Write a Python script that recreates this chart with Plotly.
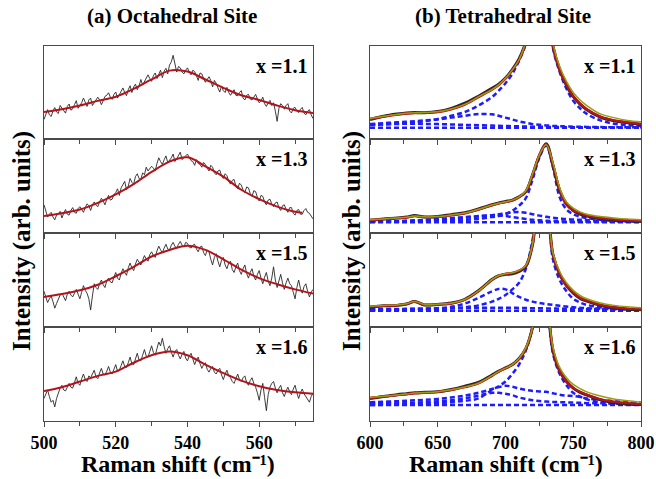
import plotly.graph_objects as go

# ---------------- (a) Octahedral site ----------------
oct_x = [500 + 0.5 * k for k in range(151)]
oct_fit_x = [500, 505, 510, 515, 520, 525, 530, 535, 540, 545, 550, 555, 560, 565, 570, 575]
oct_fit_x13 = [500, 505, 510, 515, 520, 525, 530, 535, 540, 545, 550, 555, 560, 565, 570, 572]

oct_data_11 = [.21, .27, .316, .26, .242, .30, .338, .29, .274, .36,
               .33, .30, .278, .35, .376, .31, .324, .37, .412, .33,
               .36, .39, .44, .40, .35, .42, .44, .36, .39, .43,
               .45, .42, .369, .41, .458, .47, .497, .45, .426, .48,
               .505, .44, .472, .51, .549, .50, .466, .53, .573, .50,
               .56, .59, .53, .57, .64, .58, .62, .66, .69, .65,
               .62, .68, .71, .65, .70, .74, .66, .73, .76, .70,
               .795, .83, .90, .80, .72, .78, .765, .72, .70, .74,
               .765, .72, .69, .74, .725, .68, .63, .71, .70, .65,
               .61, .64, .67, .63, .56, .63, .60, .55, .505, .57,
               .52, .50, .555, .50, .47, .50, .53, .47, .465, .50,
               .52, .44, .42, .47, .48, .43, .42, .45, .48, .43,
               .39, .41, .45, .38, .35, .39, .415, .36, .39, .30,
               .19, .33, .38, .36, .32, .36, .38, .30, .28, .33,
               .34, .30, .285, .32, .34, .28, .26, .30, .315, .26,
               .22]
oct_fit_11 = [.29, .32, .36, .41, .455, .54, .64, .735, .725, .64, .55, .47, .42, .36, .31, .28]

oct_data_13 = [.30, .22, .17, .20, .22, .17, .14, .19, .20, .23,
               .16, .21, .25, .20, .19, .24, .27, .22, .21, .26,
               .28, .25, .22, .27, .31, .29, .24, .30, .33, .30,
               .28, .33, .37, .34, .30, .36, .40, .35, .36, .41,
               .43, .47, .40, .48, .52, .55, .46, .50, .58, .54,
               .52, .60, .63, .58, .57, .64, .62, .70, .66, .68,
               .71, .69, .66, .74, .80, .76, .73, .78, .82, .75,
               .77, .80, .84, .76, .79, .83, .86, .78, .80, .82,
               .84, .80, .77, .76, .72, .78, .74, .73, .70, .75,
               .73, .69, .66, .72, .70, .64, .62, .66, .67, .61,
               .58, .63, .61, .55, .52, .56, .57, .50, .47, .53,
               .51, .46, .43, .49, .48, .42, .39, .45, .44, .38,
               .34, .40, .39, .33, .30, .35, .36, .31, .28, .32,
               .33, .27, .24, .29, .30, .25, .22, .27, .27, .21,
               .19, .24, .25, .20, .20, .24, .26, .22, .21, .18,
               .15]
oct_fit_13 = [.18, .21, .25, .32, .41, .52, .65, .76, .805, .71, .60, .46, .36, .28, .225, .215]

oct_data_15 = [.38, .31, .26, .30, .33, .27, .20, .25, .30, .34,
               .36, .31, .28, .35, .38, .34, .32, .36, .40, .35,
               .30, .37, .44, .39, .36, .30, .18, .33, .46, .42,
               .40, .46, .50, .45, .42, .49, .52, .48, .47, .53,
               .58, .52, .50, .57, .62, .58, .55, .63, .68, .63,
               .60, .67, .72, .69, .66, .71, .76, .72, .70, .77,
               .80, .76, .74, .81, .86, .82, .79, .84, .88, .83,
               .82, .87, .90, .86, .84, .88, .91, .87, .85, .90,
               .89, .85, .84, .87, .88, .83, .80, .85, .86, .79,
               .76, .82, .80, .72, .66, .74, .78, .70, .64, .71,
               .74, .66, .62, .68, .70, .61, .58, .64, .68, .60,
               .56, .62, .66, .57, .52, .58, .62, .54, .50, .56,
               .60, .52, .46, .53, .58, .49, .44, .52, .64, .50,
               .42, .49, .56, .47, .40, .47, .52, .46, .44, .37,
               .30, .42, .50, .41, .36, .43, .46, .38, .32, .37,
               .40]
oct_fit_15 = [.32, .35, .39, .45, .54, .64, .75, .82, .865, .82, .72, .61, .52, .455, .40, .355]

oct_data_16 = [.24, .29, .33, .26, .20, .22, .15, .24, .30, .35,
               .38, .33, .32, .37, .40, .36, .35, .41, .47, .40,
               .38, .45, .50, .44, .42, .48, .46, .50, .54, .47,
               .45, .51, .56, .50, .49, .53, .58, .52, .50, .55,
               .60, .53, .54, .59, .64, .58, .57, .62, .68, .61,
               .60, .66, .72, .65, .64, .70, .76, .69, .68, .74,
               .80, .73, .70, .77, .84, .80, .88, .79, .72, .77,
               .80, .73, .68, .74, .76, .70, .66, .71, .74, .67,
               .64, .69, .72, .66, .60, .65, .68, .61, .56, .60,
               .62, .55, .52, .56, .58, .52, .50, .54, .56, .49,
               .44, .50, .54, .48, .46, .42, .40, .45, .50, .44,
               .42, .46, .48, .41, .38, .43, .46, .40, .36, .30,
               .22, .33, .40, .25, .11, .28, .36, .40, .42, .35,
               .30, .35, .38, .30, .26, .32, .36, .31, .28, .34,
               .38, .30, .24, .30, .34, .29, .26, .24, .20, .26,
               .30]
oct_fit_16 = [.32, .36, .42, .48, .525, .62, .70, .74, .70, .60, .51, .43, .37, .33, .305, .29]

# ---------------- (b) Tetrahedral site ----------------
tet_x = [600, 610, 620, 627, 633, 640, 650, 660, 670, 680, 690, 695, 700, 705, 710, 715, 720, 725,
         730, 735, 740, 745, 750, 755, 760, 770, 780, 790, 800]
base_x = [600, 800]

# x = 1.1
t11_data = [.21, .245, .268, .28, .284, .282, .295, .33, .385, .46, .545, .59, .655, .745, .86, 1.04, 1.3,
            1.6, 1.6, 1.0, .745, .575, .455, .375, .315, .235, .195, .175, .158]
t11_red = [.215, .24, .262, .274, .28, .283, .29, .32, .37, .45, .53, .58, .65, .74, .85, 1.03, 1.3,
           1.6, 1.6, 1.0, .74, .58, .46, .38, .32, .24, .20, .18, .16]
t11_olive = [.22, .245, .265, .277, .282, .285, .292, .322, .372, .452, .532, .582, .652, .742, .852,
             1.04, 1.3, 1.6, 1.6, 1.03, .78, .62, .50, .42, .36, .27, .23, .20, .185]
t11_main = [.15, .155, .165, .17, .178, .19, .215, .25, .29, .36, .45, .52, .60, .70, .84, 1.02, 1.3,
            1.6, 1.6, .98, .72, .54, .41, .33, .27, .20, .165, .15, .14]
t11_shoulder = [.16, .17, .18, .186, .192, .20, .21, .23, .25, .268, .265, .25, .23, .21, .19, .175,
                .16, .152, .146, .14, .138, .135, .133, .132, .13, .128, .127, .126, .125]
t11_low = [.158, .16, .162, .163, .163, .162, .16, .156, .152, .148, .144, .142, .14, .138, .136, .134,
           .132, .131, .13, .129, .128, .127, .126, .126, .125, .125, .124, .124, .123]
t11_base = [.12, .12]

# x = 1.3
t13_data = [.135, .15, .16, .17, .185, .17, .175, .195, .215, .255, .30, .32, .335, .35, .385, .44, .62,
            .82, .95, .72, .45, .31, .24, .20, .18, .155, .14, .13, .125]
t13_red = [.138, .148, .158, .165, .18, .17, .173, .19, .21, .25, .295, .315, .33, .345, .38, .44, .62,
           .83, .945, .73, .46, .30, .24, .21, .185, .16, .145, .135, .128]
t13_olive = [.14, .15, .16, .167, .18, .172, .175, .192, .212, .252, .297, .317, .332, .35, .385, .45,
             .63, .83, .94, .75, .48, .33, .265, .225, .20, .175, .16, .148, .14]
t13_main = [.12, .12, .122, .123, .125, .127, .13, .135, .14, .15, .17, .18, .20, .235, .29, .37, .57,
            .80, .93, .70, .38, .25, .20, .175, .16, .14, .13, .125, .122]
t13_shoulder = [.12, .122, .125, .127, .13, .133, .14, .15, .16, .175, .19, .20, .21, .22, .222, .215,
                .20, .185, .172, .162, .155, .148, .143, .14, .137, .132, .128, .125, .122]
t13_mid = [.118, .12, .125, .13, .135, .14, .15, .16, .17, .18, .19, .188, .18, .17, .16, .15, .14,
           .135, .13, .128, .125, .123, .122, .121, .12, .12, .119, .119, .118]
t13_base = [.115, .115]

# x = 1.5
t15_data = [.21, .225, .23, .245, .27, .235, .24, .255, .295, .385, .505, .545, .56, .565, .59, .645, .88,
            1.4, 1.3, .77, .56, .44, .36, .305, .275, .23, .205, .19, .185]
t15_red = [.216, .225, .232, .245, .27, .236, .24, .25, .29, .38, .50, .545, .565, .575, .60, .65, .88,
           1.4, 1.3, .77, .56, .44, .365, .31, .28, .235, .21, .195, .188]
t15_olive = [.22, .228, .235, .247, .272, .24, .243, .253, .293, .383, .503, .548, .568, .578, .603,
             .655, .885, 1.4, 1.3, .79, .59, .47, .39, .335, .30, .255, .23, .215, .205]
t15_main = [.175, .177, .18, .182, .185, .187, .19, .20, .21, .23, .27, .30, .34, .40, .47, .62, .93,
            1.4, 1.3, .72, .50, .38, .30, .26, .235, .21, .195, .187, .182]
t15_comp = [.18, .183, .186, .19, .192, .195, .20, .215, .25, .31, .38, .405, .40, .36, .32, .29, .27,
            .255, .245, .235, .225, .218, .21, .205, .20, .195, .19, .187, .185]
t15_low = [.19, .191, .192, .193, .194, .195, .197, .20, .203, .205, .206, .206, .205, .204, .203, .202,
           .20, .199, .198, .197, .195, .194, .193, .192, .192, .191, .19, .19, .19]
t15_base = [.173, .173]

# x = 1.6
t16_data = [.24, .26, .28, .29, .30, .305, .31, .335, .37, .41, .49, .53, .565, .60, .665, .77, 1.0,
            1.5, 1.3, .75, .53, .42, .35, .305, .275, .225, .195, .18, .175]
t16_red = [.245, .26, .275, .285, .295, .30, .31, .33, .36, .40, .48, .525, .56, .595, .66, .77, 1.0,
           1.5, 1.3, .76, .53, .42, .35, .31, .28, .23, .205, .19, .18]
t16_olive = [.25, .262, .277, .287, .297, .302, .312, .332, .362, .402, .482, .528, .563, .60, .665,
             .78, 1.0, 1.5, 1.3, .79, .57, .46, .39, .345, .31, .265, .235, .215, .20]
t16_main = [.17, .172, .175, .178, .18, .183, .19, .20, .215, .24, .33, .37, .42, .50, .60, .75, 1.0,
            1.5, 1.3, .72, .50, .38, .30, .26, .23, .20, .185, .178, .174]
t16_comp = [.20, .205, .21, .215, .22, .225, .235, .25, .27, .30, .34, .36, .375, .365, .345, .33, .32,
            .315, .31, .295, .28, .27, .265, .255, .24, .225, .21, .20, .195]
t16_comp2 = [.185, .187, .19, .192, .195, .20, .21, .22, .24, .27, .30, .30, .29, .275, .25, .235, .22,
             .212, .207, .203, .20, .198, .196, .194, .19, .188, .187, .186, .185]
t16_base = [.17, .17]

labels = ["x =1.1", "x =1.3", "x =1.5", "x =1.6"]

# ---------------- figure ----------------
W, H = 656, 479
fig = go.Figure()

BLACK = "#262626"
RED = "#b3141b"
OLIVE = "#9c9c14"
BLUE = "#1c1cff"
DASH = "5px,3px"
SERIF = "Times New Roman, Liberation Serif, serif"


def add(i, x, y, color, width, dash="solid", shape="linear"):
    fig.add_trace(go.Scatter(x=x, y=y, mode="lines", xaxis=f"x{i + 1}", yaxis=f"y{i + 1}",
                             line=dict(color=color, width=width, dash=dash, shape=shape),
                             showlegend=False, hoverinfo="skip"))


oct_sets = [(oct_data_11, oct_fit_x, oct_fit_11), (oct_data_13, oct_fit_x13, oct_fit_13),
            (oct_data_15, oct_fit_x, oct_fit_15), (oct_data_16, oct_fit_x, oct_fit_16)]
for i, (d, fx, f) in enumerate(oct_sets):
    add(i, oct_x, d, BLACK, 0.9)
    add(i, fx, f, RED, 2.0, shape="spline")

tet_sets = [
    (t11_data, t11_red, t11_olive, [t11_main, t11_shoulder, t11_low], t11_base),
    (t13_data, t13_red, t13_olive, [t13_main, t13_shoulder, t13_mid], t13_base),
    (t15_data, t15_red, t15_olive, [t15_main, t15_comp, t15_low], t15_base),
    (t16_data, t16_red, t16_olive, [t16_main, t16_comp, t16_comp2], t16_base),
]
for k, (d, r, o, comps, b) in enumerate(tet_sets):
    i = 4 + k
    add(i, base_x, b, BLUE, 2.5, dash=DASH)
    for c in comps:
        add(i, tet_x, c, BLUE, 2.5, dash=DASH, shape="spline")
    add(i, tet_x, d, BLACK, 3.0, shape="spline")
    add(i, tet_x, r, RED, 2.4, shape="spline")
    add(i, tet_x, o, OLIVE, 1.5, shape="spline")

edges = [46, 139, 233, 327, 421]
col_px = [(44, 313), (370, 641)]
tick_font = dict(family=SERIF, size=18, color="black", weight="bold")
layout = dict(width=W, height=H, margin=dict(l=0, r=0, t=0, b=0, pad=0, autoexpand=False),
              paper_bgcolor="white", plot_bgcolor="white", autosize=False)

for i in range(8):
    col = 0 if i < 4 else 1
    row = i % 4
    xd = [col_px[col][0] / W, col_px[col][1] / W]
    yd = [1 - edges[row + 1] / H, 1 - edges[row] / H]
    if col == 0:
        xr, dt, mdt = [500, 575], 20, 10
    else:
        xr, dt, mdt = [600, 800], 50, 25
    xa = dict(domain=xd, range=xr, anchor=f"y{i + 1}", showline=True, mirror=True,
              linecolor="#4a4a4a", linewidth=1.3, showgrid=False, zeroline=False,
              ticks="outside", ticklen=5, tickwidth=1.2, tickcolor="#4a4a4a", dtick=dt, tick0=0,
              minor=dict(ticks="outside", ticklen=4, tickwidth=1.1, tickcolor="#4a4a4a", dtick=mdt,
                         showgrid=False),
              showticklabels=(row == 3), tickfont=tick_font,
              fixedrange=True, automargin=False)
    ya = dict(domain=yd, range=[0, 1], anchor=f"x{i + 1}", showline=True, mirror=True,
              linecolor="#4a4a4a", linewidth=1.3, showgrid=False, zeroline=False,
              showticklabels=False, ticks="", fixedrange=True, automargin=False)
    layout[f"xaxis{i + 1}" if i else "xaxis"] = xa
    layout[f"yaxis{i + 1}" if i else "yaxis"] = ya

fig.update_layout(**layout)

ann = []
title_font = dict(family=SERIF, size=21, color="black", weight="bold")
ann.append(dict(text="(a) Octahedral Site", x=172 / W, y=1 - 16 / H))
ann.append(dict(text="(b) Tetrahedral Site", x=503 / W, y=1 - 16 / H))
for a in ann:
    a.update(xref="paper", yref="paper", showarrow=False, font=title_font,
             xanchor="center", yanchor="middle")

lab_font = dict(family=SERIF, size=20, color="black", weight="bold")
for col in range(2):
    for row in range(4):
        ann.append(dict(text=labels[row], x=(col_px[col][1] - 4) / W, y=1 - (edges[row] + 20) / H,
                        xref="paper", yref="paper", showarrow=False, font=lab_font,
                        xanchor="right", yanchor="middle"))

axt_font = dict(family=SERIF, size=24, color="black", weight="bold")
for cx in [178, 506]:
    ann.append(dict(text="Raman shift (cm\u207b\u00b9)", x=cx / W, y=1 - 479 / H, xref="paper",
                    yref="paper", showarrow=False, font=axt_font, xanchor="center", yanchor="bottom"))
yt_font = dict(family=SERIF, size=25, color="black", weight="bold")
for cx in [22, 352]:
    ann.append(dict(text="Intensity (arb. units)", x=cx / W, y=1 - 241 / H, xref="paper",
                    yref="paper", showarrow=False, font=yt_font, textangle=-90,
                    xanchor="center", yanchor="middle"))

fig.update_layout(annotations=ann)
fig.write_html("out.html", config={"displayModeBar": False},
               post_script="document.body.style.margin='0';document.body.style.overflow='hidden';")
